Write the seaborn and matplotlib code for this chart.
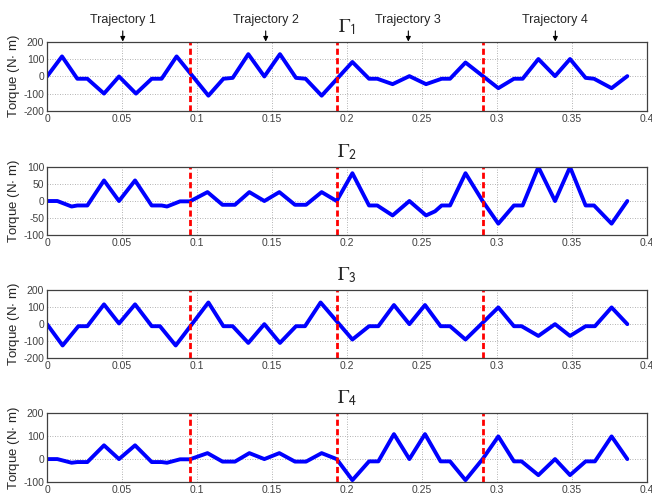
import matplotlib
matplotlib.use("Agg")
import matplotlib.pyplot as plt
import seaborn as sns
from matplotlib.ticker import FuncFormatter

# Torque traces (time in s, torque in N*m)
t_g1 = [0, 0.010, 0.0202, 0.0269, 0.038, 0.048, 0.0593, 0.0698, 0.0764, 0.0864,
        0.1076, 0.1176, 0.1238, 0.1342, 0.1449, 0.1553, 0.166, 0.1724, 0.1831,
        0.2036, 0.2147, 0.2202, 0.2304, 0.2416, 0.2527, 0.2631, 0.2687, 0.279,
        0.3009, 0.3113, 0.3171, 0.3276, 0.3387, 0.3487, 0.3591, 0.3647, 0.3764, 0.3869]
v_g1 = [0, 115, -13, -13, -98, 0, -98, -13, -13, 115,
        -110, -13, -8, 128, 0, 128, -8, -13, -110,
        83, -13, -13, -44, 2, -44, -13, -13, 80,
        -67, -13, -13, 100, 2, 100, -8, -13, -67, 2]

t_g2 = [0, 0.0069, 0.0164, 0.0202, 0.0269, 0.038, 0.048, 0.0587, 0.0698, 0.0764,
        0.080, 0.0887, 0.0953, 0.107, 0.117, 0.1253, 0.1349, 0.1449, 0.1549, 0.1653,
        0.1727, 0.1831, 0.1931, 0.2036, 0.2147, 0.2202, 0.2304, 0.2416, 0.2527, 0.2587,
        0.2631, 0.2687, 0.279, 0.2904, 0.3009, 0.3113, 0.3171, 0.3276, 0.3387, 0.3487,
        0.3591, 0.3647, 0.3764, 0.3869]
v_g2 = [0, 0, -16, -13, -13, 60, 0, 60, -13, -13,
        -16, -1, -1, 26, -11, -11, 26, 0, 26, -11,
        -11, 26, 0, 81, -13, -13, -42, 0, -42, -30,
        -13, -13, 81, 0, -66, -13, -13, 99, 0, 99,
        -13, -13, -66, 0]

t_g3 = [0, 0.0104, 0.0209, 0.0269, 0.038, 0.048, 0.0587, 0.0698, 0.0753, 0.0858,
        0.1076, 0.1176, 0.1238, 0.1342, 0.1449, 0.1553, 0.166, 0.172, 0.1824,
        0.2036, 0.2147, 0.2209, 0.2313, 0.2416, 0.252, 0.2624, 0.2687, 0.279,
        0.3009, 0.3113, 0.3164, 0.3276, 0.3387, 0.3487, 0.3591, 0.3653, 0.3764, 0.3869]
v_g3 = [0, -125, -12, -12, 116, 4, 116, -12, -12, -125,
        127, -12, -12, -110, 0, -110, -12, -12, 127,
        -90, -12, -12, 112, 0, 112, -12, -12, -90,
        98, -12, -12, -69, 0, -69, -12, -12, 98, 0]

t_g4 = [0, 0.0069, 0.0164, 0.0202, 0.0269, 0.038, 0.048, 0.0587, 0.0698, 0.0764,
        0.080, 0.0887, 0.0953, 0.107, 0.117, 0.1253, 0.1349, 0.1449, 0.1549, 0.1653,
        0.1727, 0.1831, 0.1931, 0.2036, 0.2147, 0.2209, 0.2313, 0.2416, 0.252, 0.2624,
        0.2687, 0.279, 0.2904, 0.3009, 0.3113, 0.3164, 0.3276, 0.3387, 0.3487, 0.3591,
        0.3653, 0.3764, 0.3869]
v_g4 = [0, 0, -16, -13, -13, 60, 0, 60, -13, -13,
        -16, -1, -1, 26, -11, -11, 26, 0, 26, -11,
        -11, 26, 0, -92, -10, -10, 109, 0, 109, -10,
        -10, -92, 0, 99, -10, -10, -70, 0, -70, -10,
        -10, 99, 0]

switch_times = [0.0953, 0.1931, 0.2909]
traj_labels = ["Trajectory 1", "Trajectory 2", "Trajectory 3", "Trajectory 4"]
traj_marks = [0.0505, 0.1458, 0.2409, 0.3389]

titles = [r"$\Gamma_{\mathsf{1}}$", r"$\Gamma_{\mathsf{2}}$",
          r"$\Gamma_{\mathsf{3}}$", r"$\Gamma_{\mathsf{4}}$"]
series = [(t_g1, v_g1), (t_g2, v_g2), (t_g3, v_g3), (t_g4, v_g4)]
ylims = [(-200, 200), (-100, 100), (-200, 200), (-100, 200)]
ysteps = [100, 50, 100, 100]

sns.set_style("white")
plt.rcParams["font.family"] = ["Liberation Sans", "DejaVu Sans"]
plt.rcParams["mathtext.fontset"] = "stix"
plt.rcParams["axes.unicode_minus"] = False

fig = plt.figure(figsize=(6.52, 4.95), dpi=100)

bottoms = [0.775, 0.5246, 0.2762, 0.0263]
heights = [0.141, 0.1386, 0.1379, 0.1388]

for i in range(4):
    ax = fig.add_axes([0.0721, bottoms[i], 0.9202, heights[i]])
    t, v = series[i]
    sns.lineplot(x=t, y=v, ax=ax, color="#0000ff", linewidth=2.8,
                 estimator=None, sort=False)
    for s in switch_times:
        ax.axvline(s, color="#ff0000", linewidth=2, dashes=(2.2, 1.2))

    lo, hi = ylims[i]
    ax.set_xlim(0, 0.4)
    ax.set_ylim(lo, hi)
    ax.set_xticks([k * 0.05 for k in range(9)])
    ax.set_yticks(list(range(lo, hi + 1, ysteps[i])))
    ax.xaxis.set_major_formatter(FuncFormatter(lambda x, p: "%g" % round(x, 3)))
    ax.grid(True, linestyle=(0, (1, 2)), color="#9a9a9a", linewidth=0.6)
    ax.tick_params(direction="in", length=3, width=0.6, colors="#404040",
                   labelsize=7.5, pad=2)
    for sp in ax.spines.values():
        sp.set_color("#404040")
        sp.set_linewidth(0.9)
    ax.set_ylabel("Torque (N$\\cdot$ m)", fontsize=9.5, labelpad=1)
    ax.set_title(titles[i], fontsize=14, pad=7)

    if i == 0:
        for lab, xm in zip(traj_labels, traj_marks):
            ax.annotate(lab, xy=(xm, 1.0), xycoords=ax.get_xaxis_transform(),
                        xytext=(0, 11), textcoords="offset points",
                        ha="center", va="bottom", fontsize=9,
                        arrowprops=dict(arrowstyle="-|>", color="black", lw=0.8,
                                        mutation_scale=7, shrinkA=1, shrinkB=0))

fig.savefig("out.png", dpi=100)
